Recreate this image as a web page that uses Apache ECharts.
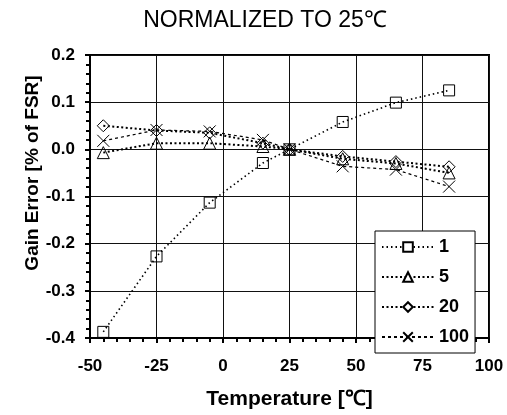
<!DOCTYPE html>
<html>
<head>
<meta charset="utf-8">
<script src="https://cdn.jsdelivr.net/npm/echarts@6/dist/echarts.min.js"></script>
<style>html,body{margin:0;padding:0;background:#fff}#c{width:507px;height:415px}</style>
</head>
<body>
<div id="c"></div>
<script>
const temps = [-45, -25, -5, 15, 25, 45, 65, 85];
const gain1 = [-0.387, -0.227, -0.113, -0.029, 0, 0.058, 0.099, 0.125];
const gain5 = [-0.007, 0.013, 0.013, 0.006, 0, -0.020, -0.030, -0.050];
const gain20 = [0.050, 0.040, 0.035, 0.013, 0, -0.015, -0.026, -0.037];
const gain100 = [0.018, 0.041, 0.038, 0.020, 0, -0.036, -0.043, -0.079];
const seriesNames = ['1', '5', '20', '100'];
const xTicks = [-50, -25, 0, 25, 50, 75, 100];
const yTicks = [-0.4, -0.3, -0.2, -0.1, 0.0, 0.1, 0.2];

const FONT = 'Liberation Sans, Arial, sans-serif';
const pairs = v => temps.map((t, i) => [t, v[i]]);
const mk = (name, vals, symbol, size, lineType, lineWidth) => ({
  name, type: 'line', data: pairs(vals), symbol, symbolSize: size,
  lineStyle: { color: '#000', type: lineType, width: lineWidth },
  itemStyle: { color: 'rgba(255,255,255,0)', borderColor: '#000', borderWidth: 1 },
  emphasis: { disabled: true }, z: 3
});

const chart = echarts.init(document.getElementById('c'));
chart.setOption({
  animation: false,
  backgroundColor: '#fff',
  title: {
    text: 'NORMALIZED TO 25℃', left: 260, top: 4, textAlign: 'center',
    textStyle: { fontFamily: FONT, fontSize: 23, fontWeight: 'normal', color: '#000' }
  },
  grid: { left: 90, right: 18, top: 55, bottom: 76, show: true, borderColor: '#000', borderWidth: 2, backgroundColor: 'transparent' },
  xAxis: {
    type: 'value', min: xTicks[0], max: xTicks[xTicks.length - 1], interval: 25,
    name: 'Temperature [℃]', nameLocation: 'middle', nameGap: 51,
    nameTextStyle: { fontFamily: FONT, fontSize: 21, fontWeight: 'bold', color: '#000' },
    axisLine: { show: true, onZero: false, lineStyle: { color: '#000', width: 2 } },
    axisTick: { show: true, length: 5, lineStyle: { color: '#000', width: 2 } },
    minorTick: { show: true, splitNumber: 5, length: 4, lineStyle: { color: '#000', width: 2 } },
    splitLine: { show: true, lineStyle: { color: '#111', width: 1 } },
    axisLabel: { margin: 20, fontFamily: FONT, fontSize: 17, fontWeight: 'bold', color: '#000' }
  },
  yAxis: {
    type: 'value', min: yTicks[0], max: yTicks[yTicks.length - 1], interval: 0.1,
    axisLine: { show: true, onZero: false, lineStyle: { color: '#000', width: 2 } },
    axisTick: { show: true, length: 5, lineStyle: { color: '#000', width: 2 } },
    minorTick: { show: true, splitNumber: 5, length: 4, lineStyle: { color: '#000', width: 2 } },
    splitLine: { show: true, lineStyle: { color: '#111', width: 1 } },
    axisLabel: { margin: 15, fontFamily: FONT, fontSize: 17, fontWeight: 'bold', color: '#000',
      formatter: v => (Math.abs(v) < 1e-9 ? 0 : v).toFixed(1) }
  },
  legend: {
    orient: 'vertical', left: 375, top: 231, padding: [7, 6, 7, 6],
    backgroundColor: '#fff', borderColor: '#000', borderWidth: 1,
    itemWidth: 52, itemHeight: 12, itemGap: 12,
    itemStyle: { color: '#fff' },
    textStyle: { fontFamily: FONT, fontSize: 18, fontWeight: 'bold', color: '#000', padding: [0, 0, 0, 0] },
    data: seriesNames
  },
  graphic: [{
    type: 'text', x: 33, y: 173, rotation: Math.PI / 2,
    style: { text: 'Gain Error [% of FSR]', fill: '#000', font: 'bold 19px ' + FONT, textAlign: 'center', textVerticalAlign: 'middle' }
  }],
  series: [
    mk(seriesNames[0], gain1, 'rect', 11, [1.5, 3], 1.6),
    mk(seriesNames[1], gain5, 'triangle', 12, [2, 2.5], 2),
    mk(seriesNames[2], gain20, 'diamond', 12, [2, 2.5], 2),
    mk(seriesNames[3], gain100, 'path://M0,0L10,10M10,0L0,10', 12, [3, 3], 1.2)
  ]
});
</script>
</body>
</html>
